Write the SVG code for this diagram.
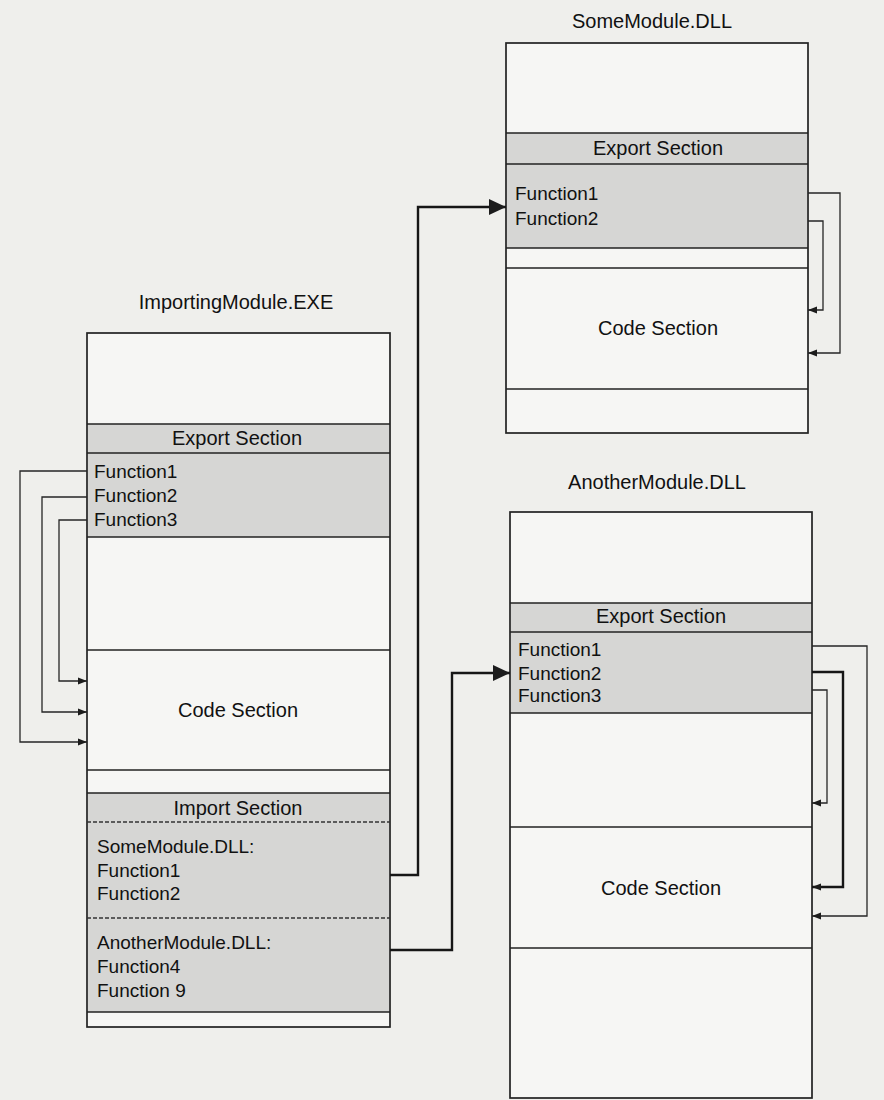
<svg xmlns="http://www.w3.org/2000/svg" width="884" height="1100" viewBox="0 0 884 1100">
  <defs>
    <style>
      text { font-family: "Liberation Sans", Arial, sans-serif; fill: #111111; }
      .title { font-size: 20px; text-anchor: middle; }
      .head { font-size: 20px; text-anchor: middle; }
      .fn { font-size: 19px; }
      .box { fill: #f6f6f4; stroke: #222222; stroke-width: 1.7; }
      .shade { fill: #d6d6d4; stroke: none; }
      .rule { stroke: #222222; stroke-width: 1.7; fill: none; }
      .dash { stroke: #333333; stroke-width: 1.4; stroke-dasharray: 4 2; fill: none; }
      .link { stroke: #262626; stroke-width: 1.3; fill: none; }
      .link-bold { stroke: #161616; stroke-width: 2.4; fill: none; }
    </style>
    <marker id="tip-small" viewBox="0 0 10 8" refX="10" refY="4" markerWidth="9" markerHeight="8" markerUnits="userSpaceOnUse" orient="auto">
      <path d="M0,0 L10,4 L0,8 Z" fill="#1c1c1c"/>
    </marker>
    <marker id="tip-large" viewBox="0 0 17 16" refX="17" refY="8" markerWidth="17" markerHeight="16" markerUnits="userSpaceOnUse" orient="auto">
      <path d="M0,0 L17,8 L0,16 Z" fill="#1c1c1c"/>
    </marker>
  </defs>

  <!-- page -->
  <rect x="0" y="0" width="884" height="1100" fill="#efefec"/>

  <!-- ImportingModule.EXE -->
  <g id="importing-module">
    <text class="title" x="236" y="309">ImportingModule.EXE</text>
    <rect class="box" x="87" y="333" width="303" height="694"/>
    <rect class="shade" x="88" y="424" width="301" height="113"/>
    <rect class="shade" x="88" y="793" width="301" height="219"/>
    <line class="rule" x1="87" y1="424" x2="390" y2="424"/>
    <line class="rule" x1="87" y1="453" x2="390" y2="453"/>
    <line class="rule" x1="87" y1="537" x2="390" y2="537"/>
    <line class="rule" x1="87" y1="650" x2="390" y2="650"/>
    <line class="rule" x1="87" y1="770" x2="390" y2="770"/>
    <line class="rule" x1="87" y1="793" x2="390" y2="793"/>
    <line class="dash" x1="87" y1="822" x2="390" y2="822"/>
    <line class="dash" x1="87" y1="918" x2="390" y2="918"/>
    <line class="rule" x1="87" y1="1012" x2="390" y2="1012"/>
    <text class="head" x="237" y="445">Export Section</text>
    <text class="fn" x="94" y="478">Function1</text>
    <text class="fn" x="94" y="502">Function2</text>
    <text class="fn" x="94" y="526">Function3</text>
    <text class="head" x="238" y="717">Code Section</text>
    <text class="head" x="238" y="815">Import Section</text>
    <text class="fn" x="97" y="853">SomeModule.DLL:</text>
    <text class="fn" x="97" y="877">Function1</text>
    <text class="fn" x="97" y="900">Function2</text>
    <text class="fn" x="97" y="949">AnotherModule.DLL:</text>
    <text class="fn" x="97" y="973">Function4</text>
    <text class="fn" x="97" y="997">Function 9</text>
  </g>

  <!-- SomeModule.DLL -->
  <g id="some-module">
    <text class="title" x="652" y="28">SomeModule.DLL</text>
    <rect class="box" x="506" y="43" width="302" height="390"/>
    <rect class="shade" x="507" y="133" width="300" height="115"/>
    <line class="rule" x1="506" y1="133" x2="808" y2="133"/>
    <line class="rule" x1="506" y1="164" x2="808" y2="164"/>
    <line class="rule" x1="506" y1="248" x2="808" y2="248"/>
    <line class="rule" x1="506" y1="268" x2="808" y2="268"/>
    <line class="rule" x1="506" y1="389" x2="808" y2="389"/>
    <text class="head" x="658" y="155">Export Section</text>
    <text class="fn" x="515" y="200">Function1</text>
    <text class="fn" x="515" y="225">Function2</text>
    <text class="head" x="658" y="335">Code Section</text>
  </g>

  <!-- AnotherModule.DLL -->
  <g id="another-module">
    <text class="title" x="657" y="489">AnotherModule.DLL</text>
    <rect class="box" x="510" y="512" width="302" height="586"/>
    <rect class="shade" x="511" y="603" width="300" height="110"/>
    <line class="rule" x1="510" y1="603" x2="812" y2="603"/>
    <line class="rule" x1="510" y1="632" x2="812" y2="632"/>
    <line class="rule" x1="510" y1="713" x2="812" y2="713"/>
    <line class="rule" x1="510" y1="827" x2="812" y2="827"/>
    <line class="rule" x1="510" y1="948" x2="812" y2="948"/>
    <text class="head" x="661" y="623">Export Section</text>
    <text class="fn" x="518" y="656">Function1</text>
    <text class="fn" x="518" y="680">Function2</text>
    <text class="fn" x="518" y="702">Function3</text>
    <text class="head" x="661" y="895">Code Section</text>
  </g>

  <!-- connectors -->
  <g id="connectors">
    <!-- exports of ImportingModule.EXE into its code section -->
    <path class="link" d="M87,471 H20 V742 H87" marker-end="url(#tip-small)"/>
    <path class="link" d="M87,497 H42 V712 H87" marker-end="url(#tip-small)"/>
    <path class="link" d="M87,520 H59 V681 H87" marker-end="url(#tip-small)"/>
    <!-- import entries resolved to the DLL export tables -->
    <path class="link-bold" d="M390,875 H418 V207 H506" marker-end="url(#tip-large)"/>
    <path class="link-bold" d="M390,950 H452 V673 H510" marker-end="url(#tip-large)"/>
    <!-- SomeModule.DLL exports into its code section -->
    <path class="link" d="M808,193 H840 V353 H808" marker-end="url(#tip-small)"/>
    <path class="link" d="M808,221 H823 V310 H808" marker-end="url(#tip-small)"/>
    <!-- AnotherModule.DLL exports into its code section -->
    <path class="link" d="M812,646 H867 V916 H812" marker-end="url(#tip-small)"/>
    <path class="link-bold" d="M812,672 H843 V887 H812" marker-end="url(#tip-small)"/>
    <path class="link" d="M812,690 H827 V803 H812" marker-end="url(#tip-small)"/>
  </g>
</svg>
